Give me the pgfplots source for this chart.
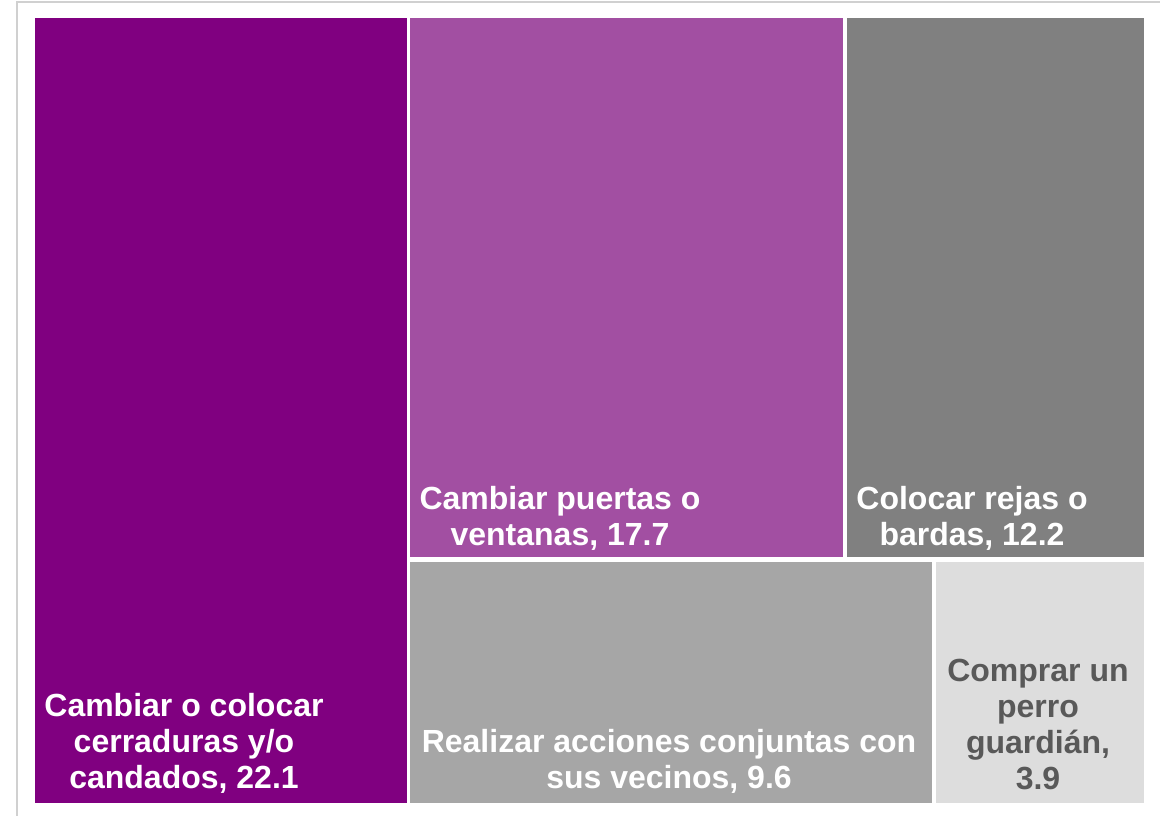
\documentclass[border=0pt]{standalone}
\usepackage{pgfplots}
\pgfplotsset{compat=1.18}
\usepackage{fontspec}
\setmainfont{Liberation Sans}
\definecolor{cPurple}{HTML}{800080}
\definecolor{cLPurple}{HTML}{A24FA2}
\definecolor{cGrey}{HTML}{808080}
\definecolor{cMGrey}{HTML}{A6A6A6}
\definecolor{cLGrey}{HTML}{DDDDDD}
\definecolor{cText}{HTML}{595959}
\definecolor{cFrame}{HTML}{D0D0D0}
\tikzset{lbl/.style={font=\bfseries\fontsize{24}{27}\selectfont, align=center, anchor=center, text=white}}
\begin{document}
\begin{tikzpicture}
\begin{axis}[
  width=870pt, height=612pt, scale only axis,
  xmin=0, xmax=1160, ymin=0, ymax=816, y dir=reverse,
  hide axis, clip=true,
]
% invisible extent
\addplot[draw=none] coordinates {(0,0) (1160,816)};
% frame
\addplot[draw=cFrame, line width=1.2pt] coordinates {(17,816) (17,2) (1160,2)};
% Cambiar o colocar cerraduras y/o candados, 22.1
\addplot[fill=cPurple, draw=none] coordinates {(35,18) (407,18) (407,803) (35,803)} -- cycle;
% Cambiar puertas o ventanas, 17.7
\addplot[fill=cLPurple, draw=none] coordinates {(410,18) (843,18) (843,557) (410,557)} -- cycle;
% Colocar rejas o bardas, 12.2
\addplot[fill=cGrey, draw=none] coordinates {(847,18) (1144,18) (1144,557) (847,557)} -- cycle;
% Realizar acciones conjuntas con sus vecinos, 9.6
\addplot[fill=cMGrey, draw=none] coordinates {(410,562) (932,562) (932,803) (410,803)} -- cycle;
% Comprar un perro guardian, 3.9
\addplot[fill=cLGrey, draw=none] coordinates {(936,562) (1144,562) (1144,803) (936,803)} -- cycle;

\node[lbl] at (axis cs:184,743) {Cambiar o colocar\\cerraduras y/o\\candados, 22.1};
\node[lbl] at (axis cs:560,518) {Cambiar puertas o\\ventanas, 17.7};
\node[lbl] at (axis cs:972,518) {Colocar rejas o\\bardas, 12.2};
\node[lbl] at (axis cs:669,761) {Realizar acciones conjuntas con\\sus vecinos, 9.6};
\node[lbl, text=cText] at (axis cs:1038,725) {Comprar un\\perro\\guardián,\\3.9};
\end{axis}
\end{tikzpicture}
\end{document}
